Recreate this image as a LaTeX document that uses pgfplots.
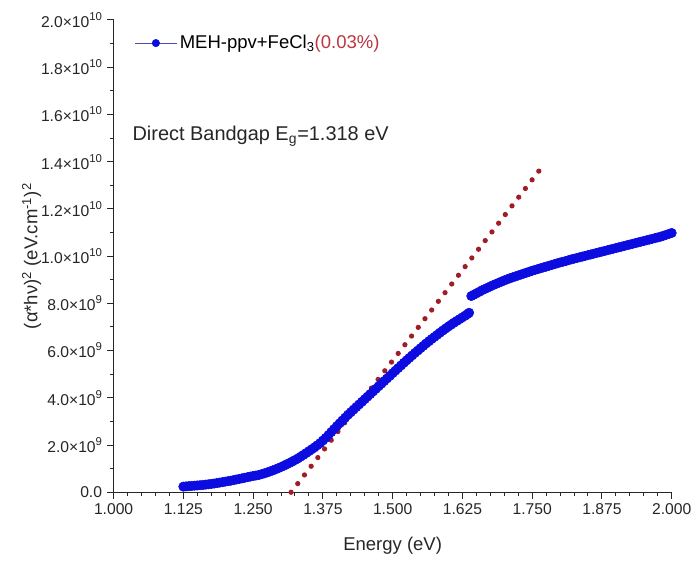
\documentclass[border=0pt]{standalone}
\usepackage{pgfplots}
\pgfplotsset{compat=1.18}
\usepackage{fontspec}
\setmainfont{Liberation Sans}

\definecolor{fitred}{RGB}{160,28,38}
\definecolor{legred}{RGB}{185,55,65}
\definecolor{ptblue}{RGB}{12,12,225}

% y tick labels in the form 2.0x10^10
\newcommand{\sci}[2]{#1×10\raisebox{0.85ex}{\fontsize{8}{8}\selectfont #2}}

\begin{document}
\begin{tikzpicture}
\begin{axis}[
  scale only axis,
  width=392pt, height=331.8pt,
  xmin=1, xmax=2, ymin=0, ymax=2e10,
  axis lines*=left,
  axis line style={line width=0.9pt, black!85},
  tick align=outside,
  major tick length=4.6pt, minor tick length=2.6pt,
  every tick/.style={black!85, line width=0.7pt},
  scaled y ticks=false,
  xtick={1,1.125,1.25,1.375,1.5,1.625,1.75,1.875,2},
  xticklabels={1.000,1.125,1.250,1.375,1.500,1.625,1.750,1.875,2.000},
  minor x tick num=4,
  ytick={0,2e9,4e9,6e9,8e9,1e10,1.2e10,1.4e10,1.6e10,1.8e10,2e10},
  yticklabels={0.0,\sci{2.0}{9},\sci{4.0}{9},\sci{6.0}{9},\sci{8.0}{9},
    \sci{1.0}{10},\sci{1.2}{10},\sci{1.4}{10},\sci{1.6}{10},\sci{1.8}{10},\sci{2.0}{10}},
  minor y tick num=1,
  tick label style={font=\fontsize{11}{13}\selectfont, text=black!85},
  xlabel={Energy (eV)},
  ylabel={(α*hν)\textsuperscript{2} (eV.cm\textsuperscript{-1})\textsuperscript{2}},
  label style={font=\fontsize{13}{15}\selectfont, text=black!85},
  x label style={at={(axis description cs:0.5,-0.114)}, anchor=center},
  y label style={at={(axis description cs:-0.147,0.5)}, anchor=center},
  legend style={at={(axis description cs:0.0375,0.951)}, anchor=west,
    draw=none, fill=none, font=\fontsize{13}{15}\selectfont,
    inner sep=0pt, cells={anchor=west}},
  clip=false,
]

% absorption data, (alpha*h*nu)^2 vs photon energy
\addplot[only marks, mark=*, mark size=3.3pt, ptblue,
  mark options={draw=ptblue, fill=ptblue},
  legend image code/.code={
    \draw[gray!60!blue, line width=0.6pt] (0pt,0pt) -- (29pt,0pt);
    \fill[ptblue] (14.5pt,0pt) circle (2.6pt);}]
  table {
x y
1.125 0.24e9
1.130 0.25e9
1.135 0.26e9
1.140 0.27e9
1.145 0.28e9
1.150 0.29e9
1.155 0.30e9
1.160 0.31e9
1.165 0.325e9
1.170 0.34e9
1.175 0.355e9
1.180 0.37e9
1.185 0.39e9
1.190 0.41e9
1.195 0.43e9
1.200 0.45e9
1.205 0.47e9
1.210 0.49e9
1.215 0.515e9
1.220 0.54e9
1.225 0.565e9
1.230 0.59e9
1.235 0.615e9
1.240 0.64e9
1.245 0.665e9
1.250 0.69e9
1.255 0.71e9
1.260 0.73e9
1.265 0.765e9
1.270 0.80e9
1.275 0.84e9
1.280 0.88e9
1.285 0.925e9
1.290 0.97e9
1.295 1.02e9
1.300 1.07e9
1.305 1.125e9
1.310 1.18e9
1.315 1.24e9
1.320 1.30e9
1.325 1.365e9
1.330 1.43e9
1.335 1.505e9
1.340 1.58e9
1.345 1.66e9
1.350 1.74e9
1.355 1.82e9
1.360 1.90e9
1.365 1.99e9
1.370 2.08e9
1.375 2.19e9
1.380 2.30e9
1.385 2.42e9
1.390 2.55e9
1.395 2.675e9
1.400 2.80e9
1.405 2.92e9
1.410 3.04e9
1.415 3.16e9
1.420 3.28e9
1.425 3.39e9
1.430 3.50e9
1.435 3.61e9
1.440 3.72e9
1.445 3.83e9
1.450 3.94e9
1.455 4.05e9
1.460 4.16e9
1.465 4.27e9
1.470 4.38e9
1.475 4.49e9
1.480 4.60e9
1.485 4.71e9
1.490 4.82e9
1.495 4.93e9
1.500 5.04e9
1.505 5.15e9
1.510 5.26e9
1.515 5.37e9
1.520 5.48e9
1.525 5.585e9
1.530 5.69e9
1.535 5.795e9
1.540 5.90e9
1.545 6.00e9
1.550 6.10e9
1.555 6.20e9
1.560 6.30e9
1.565 6.395e9
1.570 6.49e9
1.575 6.58e9
1.580 6.67e9
1.585 6.76e9
1.590 6.85e9
1.595 6.935e9
1.600 7.02e9
1.605 7.10e9
1.610 7.18e9
1.615 7.255e9
1.620 7.33e9
1.625 7.405e9
1.630 7.48e9
1.634 7.54e9
1.637 7.60e9
1.641 8.31e9
1.645 8.36e9
1.650 8.42e9
1.655 8.485e9
1.660 8.55e9
1.665 8.605e9
1.670 8.66e9
1.675 8.715e9
1.680 8.77e9
1.685 8.82e9
1.690 8.87e9
1.695 8.92e9
1.700 8.97e9
1.705 9.015e9
1.710 9.06e9
1.715 9.10e9
1.720 9.14e9
1.725 9.18e9
1.730 9.22e9
1.735 9.26e9
1.740 9.30e9
1.745 9.34e9
1.750 9.38e9
1.755 9.415e9
1.760 9.45e9
1.765 9.485e9
1.770 9.52e9
1.775 9.555e9
1.780 9.59e9
1.785 9.625e9
1.790 9.66e9
1.795 9.695e9
1.800 9.73e9
1.805 9.76e9
1.810 9.79e9
1.815 9.825e9
1.820 9.86e9
1.825 9.89e9
1.830 9.92e9
1.835 9.95e9
1.840 9.98e9
1.845 10.01e9
1.850 10.04e9
1.855 10.07e9
1.860 10.10e9
1.865 10.13e9
1.870 10.16e9
1.875 10.19e9
1.880 10.22e9
1.885 10.25e9
1.890 10.28e9
1.895 10.31e9
1.900 10.34e9
1.905 10.37e9
1.910 10.40e9
1.915 10.43e9
1.920 10.46e9
1.925 10.49e9
1.930 10.52e9
1.935 10.55e9
1.940 10.58e9
1.945 10.61e9
1.950 10.64e9
1.955 10.67e9
1.960 10.70e9
1.965 10.73e9
1.970 10.76e9
1.975 10.79e9
1.980 10.82e9
1.985 10.86e9
1.990 10.90e9
1.995 10.94e9
2.000 10.98e9
};
\addlegendentry{MEH-ppv+FeCl\textsubscript{3}\textcolor{legred}{(0.03\%)}}

% linear fit extrapolated to the energy axis
\addplot[fitred, line width=3.7pt, line cap=round,
  dash pattern=on 0pt off 7.7pt, forget plot]
  coordinates {(1.318,0) (1.762,1.36e10)};

\node[anchor=west, font=\fontsize{14}{16}\selectfont, text=black!85]
  at (axis description cs:0.025,0.753) {Direct Bandgap E\textsubscript{g}=1.318 eV};
\end{axis}
% page frame around the plot
\path (current axis.south west) ++(-79.8pt,-47.6pt) rectangle ++(487.2pt,393.4pt);
\end{tikzpicture}
\end{document}
